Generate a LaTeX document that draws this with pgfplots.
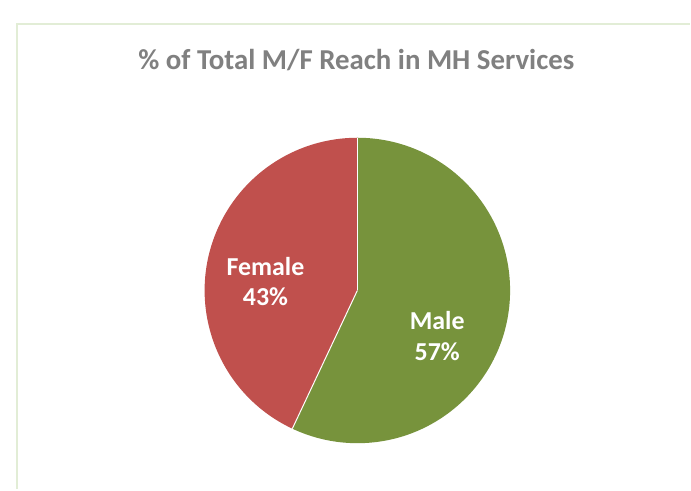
\documentclass[border=0pt]{standalone}
\usepackage{pgfplots}
\usepackage{pgfplotstable}
\pgfplotsset{compat=1.18}
\usepackage{fontspec}
\setmainfont{Carlito}
\definecolor{malegreen}{HTML}{77933C}
\definecolor{femred}{HTML}{C0504D}
\definecolor{titlegray}{HTML}{808080}
\definecolor{framegreen}{HTML}{E2EDD6}

\pgfplotstableread{
label  value
Male   57
Female 43
}\piedata
\pgfplotstablegetelem{0}{value}\of\piedata \let\malev\pgfplotsretval
\pgfplotstablegetelem{1}{value}\of\piedata \let\femv\pgfplotsretval
% pie starts at 12 o'clock, Male runs clockwise
\pgfmathsetmacro{\splitang}{90-\malev/(\malev+\femv)*360}

\begin{document}
\begin{tikzpicture}
\begin{axis}[
  x=1bp, y=1bp, scale only axis,
  xmin=0, xmax=691, ymin=0, ymax=490,
  hide axis, clip=false,
]
\fill[white] (axis cs:0,0) rectangle (axis cs:691,490);
% chart frame (left and top edge visible)
\draw[framegreen, line width=2.5bp] (axis cs:17,0) -- (axis cs:17,466) -- (axis cs:691,466);
% slices
\fill[malegreen] (axis cs:358,199) -- ++(90:153bp) arc[start angle=90, end angle=\splitang, radius=153bp] -- cycle;
\fill[femred] (axis cs:358,199) -- ++(\splitang:153bp) arc[start angle=\splitang, end angle=-270, radius=153bp] -- cycle;
\draw[white, line width=1bp] (axis cs:358,199) -- ++(90:153bp);
\draw[white, line width=1bp] (axis cs:358,199) -- ++(\splitang:153bp);
% labels
\node[font=\fontsize{26}{31}\selectfont\bfseries, text=white, align=center]
  at (axis cs:266,208) {Female\\\femv\%};
\node[font=\fontsize{26}{31}\selectfont\bfseries, text=white, align=center]
  at (axis cs:438,153) {Male\\\malev\%};
\node[font=\fontsize{29}{33}\selectfont\bfseries, text=titlegray]
  at (axis cs:357,430) {\% of Total M/F Reach in MH Services};
\end{axis}
\end{tikzpicture}
\end{document}
